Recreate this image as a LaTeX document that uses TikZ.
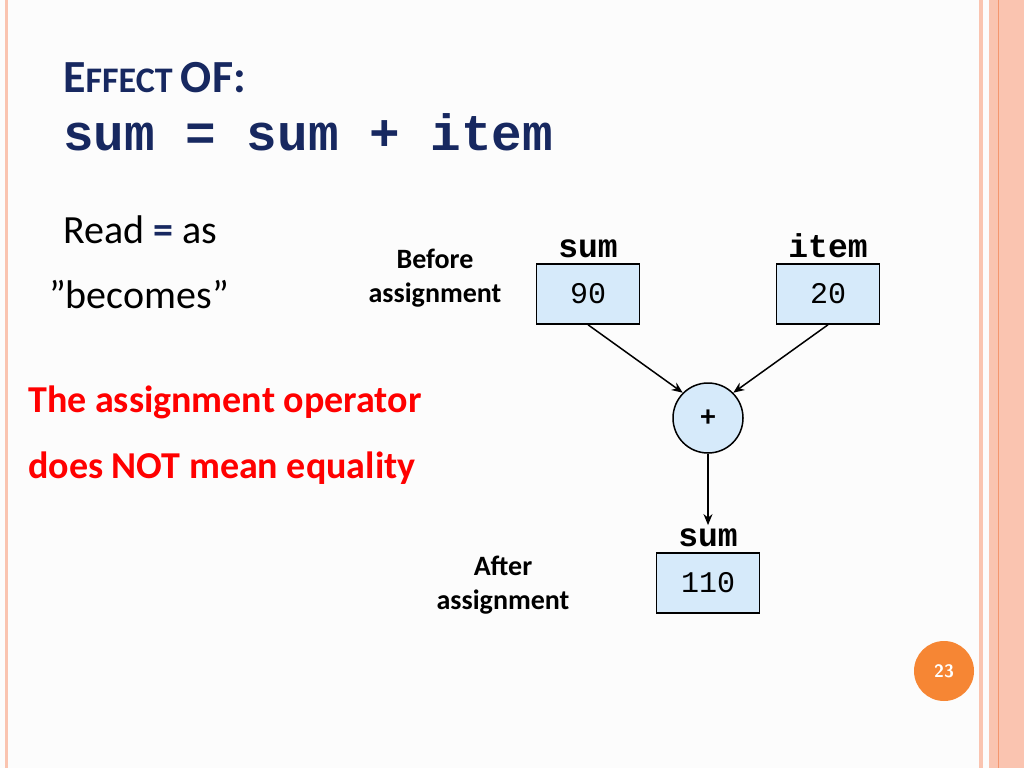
\documentclass[tikz,border=0pt]{standalone}
\usepackage{fontspec}
\setmainfont{Carlito}
\setmonofont{Liberation Mono}
\usetikzlibrary{positioning,arrows.meta}
\definecolor{titleblue}{RGB}{23,40,96}
\definecolor{boxblue}{RGB}{214,234,250}
\definecolor{pagebg}{RGB}{252,252,252}
\definecolor{rim}{RGB}{250,196,176}
\definecolor{rimdark}{RGB}{244,150,110}
\definecolor{badge}{RGB}{246,134,52}
\newcommand{\fs}[1]{\fontsize{#1}{#1}\selectfont}

\begin{document}
\begin{tikzpicture}[x=1pt,y=-1pt,
	valbox/.style={draw, line width=1.5pt, fill=boxblue, minimum width=103pt, minimum height=60pt, font=\ttfamily\fs{30}},
	varname/.style={font=\ttfamily\bfseries\fs{33}},
	note/.style={align=center, font=\bfseries\fs{28}, inner sep=0pt},
	flow/.style={-{Stealth[length=11pt,width=9pt]}, line width=1.5pt}]
\useasboundingbox[fill=pagebg] (0,0) rectangle (1024,768);
% slide rims
\fill[rim] (5,0) rectangle (8,768);
\fill[rim] (979,0) rectangle (983,768);
\fill[rim] (989,0) rectangle (1024,768);
\draw[rimdark, line width=0.6pt] (998,0) -- (998,768);

% title
\node[anchor=base west, inner sep=0pt, text=titleblue, font=\bfseries] (title) at (63,92)
	{\fs{46}E\fs{36}FFECT \fs{46}OF:};
\node[anchor=base west, inner sep=0pt, text=titleblue, font=\ttfamily\bfseries\fs{51}] (stmt) at (63,150) {sum = sum + item};

% left notes
\node[anchor=base west, inner sep=0pt, font=\fs{40}] (read) at (63,243) {Read \textcolor{titleblue}{\textbf{=}} as};
\node[anchor=base west, inner sep=0pt, font=\fs{40}] (becomes) at (49,308) {"becomes"};
\node[anchor=base west, inner sep=0pt, text=red, font=\bfseries\fs{38}] (warn1) at (28,412) {The assignment operator};
\node[anchor=base west, inner sep=0pt, text=red, font=\bfseries\fs{38}] (warn2) at (28,478) {does NOT mean equality};

% diagram
\node[valbox] (sumold) at (588,294) {90};
\node[valbox] (item) at (828,294) {20};
\node[varname, above=2pt of sumold] (sumlbl) {sum};
\node[varname, above=2pt of item] (itemlbl) {item};
\node[note] (before) at (435,278) {Before\\[6pt]assignment};
\node[draw, circle, line width=1.5pt, fill=boxblue, minimum size=70pt, font=\bfseries\fs{30}] (plus) at (708,418) {+};
\node[valbox] (sumnew) at (708,583) {110};
\node[varname, above=2pt of sumnew] (sumnewlbl) {sum};
\node[note] (after) at (503,585) {After\\[6pt]assignment};

\draw[flow] (sumold.south) -- (plus.north west);
\draw[flow] (item.south) -- (plus.north east);
\draw[flow] (plus.south) -- (sumnewlbl.north);

% page number
\node[circle, fill=badge, minimum size=60pt, text=white, font=\sffamily\bfseries\fs{18}] (pageno) at (944,671) {23};
\end{tikzpicture}
\end{document}
